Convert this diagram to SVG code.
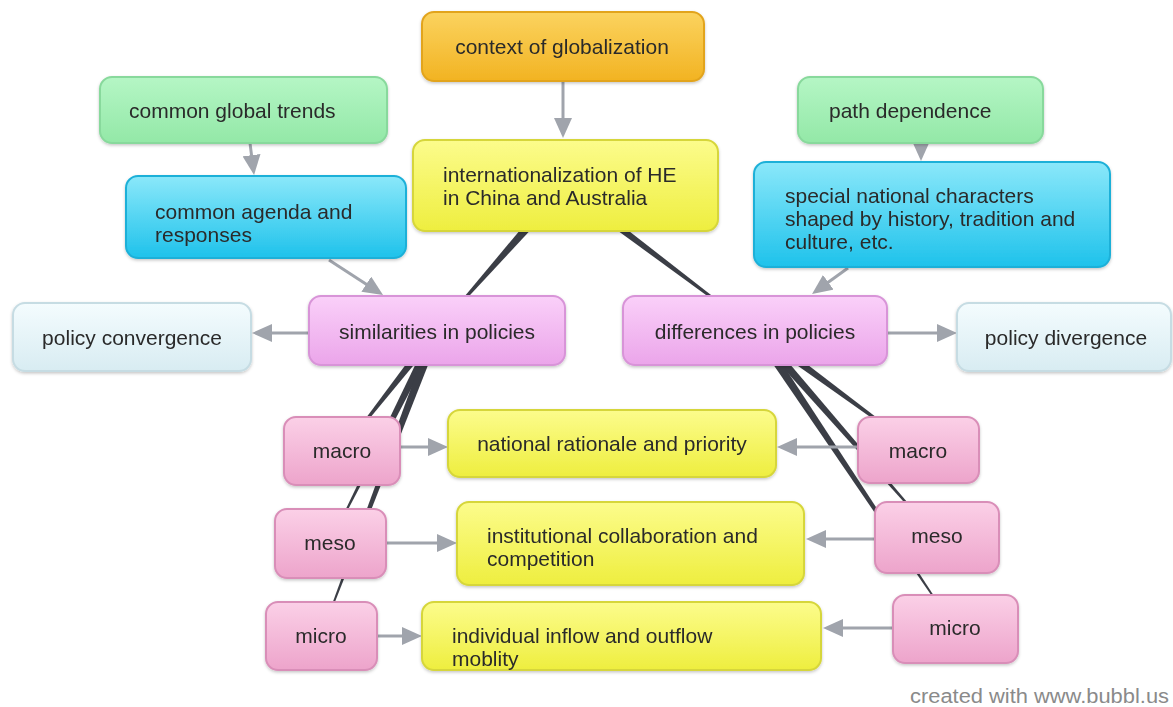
<svg xmlns="http://www.w3.org/2000/svg" width="1173" height="707" viewBox="0 0 1173 707">
<style>
text{font-family:"Liberation Sans",Arial,sans-serif;font-size:21px;fill:#2a2a2a}
.c{text-anchor:middle}
.box{stroke-width:2}
.orange{fill:url(#gOrange);stroke:#e2a41e}
.green{fill:url(#gGreen);stroke:#88d99c}
.cyan{fill:url(#gCyan);stroke:#1eb0d8}
.yellow{fill:url(#gYellow);stroke:#d6d63a}
.violet{fill:url(#gViolet);stroke:#d894d8}
.pink{fill:url(#gPink);stroke:#d98eb8}
.pale{fill:url(#gPale);stroke:#c6dce3}
.wedge{fill:#3b3e46}
.arr{stroke:#a0a4ac;stroke-width:3;fill:none;marker-end:url(#ah)}
.wm{font-size:20px;fill:#8a8a8a}
</style>
<defs>
<linearGradient id="gOrange" x1="0" y1="0" x2="0" y2="1"><stop offset="0" stop-color="#fbd35f"/><stop offset="1" stop-color="#f2b322"/></linearGradient>
<linearGradient id="gGreen" x1="0" y1="0" x2="0" y2="1"><stop offset="0" stop-color="#b5f6c5"/><stop offset="1" stop-color="#93e8a7"/></linearGradient>
<linearGradient id="gCyan" x1="0" y1="0" x2="0" y2="1"><stop offset="0" stop-color="#8be8fa"/><stop offset="1" stop-color="#1ec2eb"/></linearGradient>
<linearGradient id="gYellow" x1="0" y1="0" x2="0" y2="1"><stop offset="0" stop-color="#fcfc8c"/><stop offset="1" stop-color="#eeee3f"/></linearGradient>
<linearGradient id="gViolet" x1="0" y1="0" x2="0" y2="1"><stop offset="0" stop-color="#fad0f9"/><stop offset="1" stop-color="#eba5ea"/></linearGradient>
<linearGradient id="gPink" x1="0" y1="0" x2="0" y2="1"><stop offset="0" stop-color="#fbd0e7"/><stop offset="1" stop-color="#eda4cb"/></linearGradient>
<linearGradient id="gPale" x1="0" y1="0" x2="0" y2="1"><stop offset="0" stop-color="#f4fcfe"/><stop offset="1" stop-color="#d8ecf2"/></linearGradient>
<filter id="sh" x="-10%" y="-10%" width="120%" height="130%"><feDropShadow dx="0" dy="1.5" stdDeviation="1.5" flood-color="#000" flood-opacity="0.22"/></filter>
<marker id="ah" viewBox="0 0 20 18" refX="6" refY="9" markerWidth="20" markerHeight="18" markerUnits="userSpaceOnUse" orient="auto"><path d="M0,0 L20,9 L0,18 z" fill="#a0a4ac"/></marker>
</defs>
<rect width="1173" height="707" fill="#ffffff"/>
<g id="connectors">
<polygon class="wedge" points="559.9,182.4 568.1,189.6 437.3,330.3 436.7,329.7"/>
<polygon class="wedge" points="561.3,189.6 754.7,330.4 755.3,329.6 566.7,182.4"/>
<polygon class="wedge" points="433.5,327.2 341.6,450.7 342.4,451.3 440.5,332.8"/>
<polygon class="wedge" points="433.0,328.0 329.6,542.8 330.4,543.2 441.0,332.0"/>
<polygon class="wedge" points="432.8,328.4 320.5,635.8 321.5,636.2 441.2,331.6"/>
<polygon class="wedge" points="752.3,333.6 917.7,450.4 918.3,449.6 757.7,326.4"/>
<polygon class="wedge" points="751.6,333.0 936.6,538.3 937.4,537.7 758.4,327.0"/>
<polygon class="wedge" points="751.3,332.5 954.6,629.3 955.4,628.7 758.7,327.5"/>
<line class="arr" x1="563" y1="82" x2="563" y2="124"/>
<line class="arr" x1="250" y1="143" x2="252.3" y2="161.1"/>
<line class="arr" x1="329" y1="260" x2="371.3" y2="287.4"/>
<line class="arr" x1="309" y1="333" x2="266" y2="333"/>
<line class="arr" x1="921" y1="143" x2="921" y2="147"/>
<line class="arr" x1="848" y1="268" x2="823.4" y2="285.8"/>
<line class="arr" x1="887" y1="333" x2="943" y2="333"/>
<line class="arr" x1="400" y1="447" x2="434" y2="447"/>
<line class="arr" x1="386" y1="543" x2="443" y2="543"/>
<line class="arr" x1="377" y1="636" x2="408" y2="636"/>
<line class="arr" x1="858" y1="447" x2="791" y2="447"/>
<line class="arr" x1="875" y1="539" x2="820" y2="539"/>
<line class="arr" x1="893" y1="628" x2="837" y2="628"/>
</g>
<g id="n-context" filter="url(#sh)"><rect class="box orange" x="422" y="12" width="282" height="69" rx="12"/><text class="c" x="562" y="54">context of globalization</text></g>
<g id="n-trends" filter="url(#sh)"><rect class="box green" x="100" y="77" width="287" height="66" rx="12"/><text x="129" y="118">common global trends</text></g>
<g id="n-intl" filter="url(#sh)"><rect class="box yellow" x="413" y="140" width="305" height="91" rx="12"/><text x="443" y="182">internationalization of HE</text><text x="443" y="205">in China and Australia</text></g>
<g id="n-agenda" filter="url(#sh)"><rect class="box cyan" x="126" y="176" width="280" height="82" rx="12"/><text x="155" y="219">common agenda and</text><text x="155" y="242">responses</text></g>
<g id="n-path" filter="url(#sh)"><rect class="box green" x="798" y="77" width="245" height="66" rx="12"/><text x="829" y="118">path dependence</text></g>
<g id="n-special" filter="url(#sh)"><rect class="box cyan" x="754" y="162" width="356" height="105" rx="12"/><text x="785" y="203">special national characters</text><text x="785" y="226">shaped by history, tradition and</text><text x="785" y="249">culture, etc.</text></g>
<g id="n-convergence" filter="url(#sh)"><rect class="box pale" x="13" y="303" width="238" height="68" rx="12"/><text class="c" x="132" y="345">policy convergence</text></g>
<g id="n-similarities" filter="url(#sh)"><rect class="box violet" x="309" y="296" width="256" height="69" rx="12"/><text class="c" x="437" y="339">similarities in policies</text></g>
<g id="n-differences" filter="url(#sh)"><rect class="box violet" x="623" y="296" width="264" height="69" rx="12"/><text class="c" x="755" y="339">differences in policies</text></g>
<g id="n-divergence" filter="url(#sh)"><rect class="box pale" x="957" y="303" width="214" height="68" rx="12"/><text class="c" x="1066" y="345">policy divergence</text></g>
<g id="n-macro-l" filter="url(#sh)"><rect class="box pink" x="284" y="417" width="116" height="68" rx="12"/><text class="c" x="342" y="458">macro</text></g>
<g id="n-national" filter="url(#sh)"><rect class="box yellow" x="448" y="410" width="328" height="67" rx="12"/><text class="c" x="612" y="451">national rationale and priority</text></g>
<g id="n-meso-l" filter="url(#sh)"><rect class="box pink" x="275" y="509" width="111" height="69" rx="12"/><text class="c" x="330" y="550">meso</text></g>
<g id="n-institutional" filter="url(#sh)"><rect class="box yellow" x="457" y="502" width="347" height="83" rx="12"/><text x="487" y="543">institutional collaboration and</text><text x="487" y="566">competition</text></g>
<g id="n-micro-l" filter="url(#sh)"><rect class="box pink" x="266" y="602" width="111" height="68" rx="12"/><text class="c" x="321" y="643">micro</text></g>
<g id="n-individual" filter="url(#sh)"><rect class="box yellow" x="422" y="602" width="399" height="68" rx="12"/><text x="452" y="643">individual inflow and outflow</text><text x="452" y="666">moblity</text></g>
<g id="n-macro-r" filter="url(#sh)"><rect class="box pink" x="858" y="417" width="121" height="66" rx="12"/><text class="c" x="918" y="458">macro</text></g>
<g id="n-meso-r" filter="url(#sh)"><rect class="box pink" x="875" y="502" width="124" height="71" rx="12"/><text class="c" x="937" y="543">meso</text></g>
<g id="n-micro-r" filter="url(#sh)"><rect class="box pink" x="893" y="595" width="125" height="68" rx="12"/><text class="c" x="955" y="635">micro</text></g>
<text class="wm" x="910" y="703" textLength="259" lengthAdjust="spacingAndGlyphs">created with www.bubbl.us</text>
</svg>
